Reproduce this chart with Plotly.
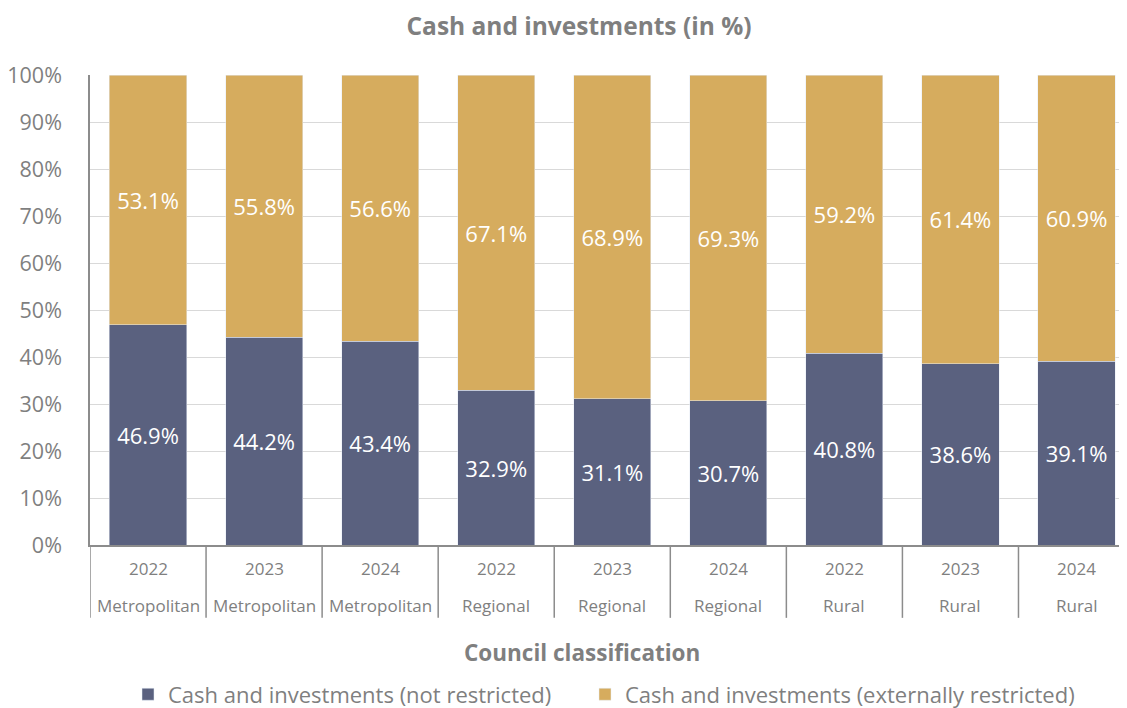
import plotly.graph_objects as go

years = ["2022", "2023", "2024", "2022", "2023", "2024", "2022", "2023", "2024"]
classes = ["Metropolitan", "Metropolitan", "Metropolitan", "Regional", "Regional", "Regional",
           "Rural", "Rural", "Rural"]
not_restricted = [46.9, 44.2, 43.4, 32.9, 31.1, 30.7, 40.8, 38.6, 39.1]
ext_restricted = [53.1, 55.8, 56.6, 67.1, 68.9, 69.3, 59.2, 61.4, 60.9]
series_names = ["Cash and investments (not restricted)", "Cash and investments (externally restricted)"]

cats = [f"{c} {y}" for c, y in zip(classes, years)]
FONT = "Open Sans"
GRAY = "#7F7F7F"

# the page body adds an 8px offset; the figure is sized to fill the rest of the window
W, H = 1119, 700
L, T, B = 82, 67, 163
PW = W - L

fig = go.Figure()
fig.add_trace(go.Bar(x=cats, y=not_restricted, name=series_names[0], marker_color="#5A617F",
                     texttemplate="%{y:.1f}%", textposition="inside", insidetextanchor="middle",
                     textfont=dict(color="white", size=22, family=FONT), textangle=0,
                     legend="legend", showlegend=True))
fig.add_trace(go.Bar(x=cats, y=ext_restricted, name=series_names[1], marker_color="#D6AC5E",
                     texttemplate="%{y:.1f}%", textposition="inside", insidetextanchor="middle",
                     textfont=dict(color="white", size=22, family=FONT), textangle=0,
                     legend="legend2", showlegend=True))

shapes = []
for i in range(len(cats) + 1):
    shapes.append(dict(type="line", xref="x", yref="paper", x0=i - 0.5, x1=i - 0.5,
                       y0=0, y1=-0.155, line=dict(color="#8C8C8C", width=1.5)))

annotations = []
for i, (y, c) in enumerate(zip(years, classes)):
    annotations.append(dict(x=i, y=-0.049, xref="x", yref="paper", text=y, showarrow=False,
                            font=dict(size=17, color=GRAY, family=FONT), yanchor="middle"))
    annotations.append(dict(x=i, y=-0.128, xref="x", yref="paper", text=c, showarrow=False,
                            font=dict(size=17, color=GRAY, family=FONT), yanchor="middle"))
annotations.append(dict(x=(574 - L) / PW, y=-0.228, xref="paper", yref="paper",
                        text="<b>Council classification</b>", showarrow=False,
                        font=dict(size=22.5, color=GRAY, family=FONT), yanchor="middle"))

leg_common = dict(orientation="h", xanchor="left", y=-0.318, yanchor="middle",
                  font=dict(size=22, color=GRAY, family=FONT), itemwidth=30,
                  bgcolor="rgba(0,0,0,0)", visible=True)

fig.update_layout(
    width=W, height=H,
    showlegend=True,
    barmode="stack", bargap=0.335,
    paper_bgcolor="white", plot_bgcolor="white",
    margin=dict(l=L, r=0, t=T, b=B, autoexpand=False),
    title=dict(text="<b>Cash and investments (in %)</b>", x=571 / W, xanchor="center",
               xref="container", y=1 - 18 / H, yanchor="middle", yref="container",
               font=dict(size=24.5, color=GRAY, family=FONT)),
    xaxis=dict(type="category", range=[-0.5, 8.435], showticklabels=False, ticks="",
               showline=True, linecolor="#8C8C8C", linewidth=1.5, showgrid=False),
    yaxis=dict(range=[0, 100], dtick=10, ticksuffix="%", showgrid=True, gridcolor="#D9D9D9",
               gridwidth=1.3, showline=True, linecolor="#8C8C8C", linewidth=1.5, zeroline=False,
               tickfont=dict(size=21.5, color=GRAY, family=FONT), ticks="", ticklabelstandoff=22),
    legend=dict(x=(120 - L) / PW, **leg_common),
    legend2=dict(x=(577 - L) / PW, **leg_common),
    shapes=shapes, annotations=annotations,
    font=dict(family=FONT, color=GRAY),
)

fig.write_html("out.html")
